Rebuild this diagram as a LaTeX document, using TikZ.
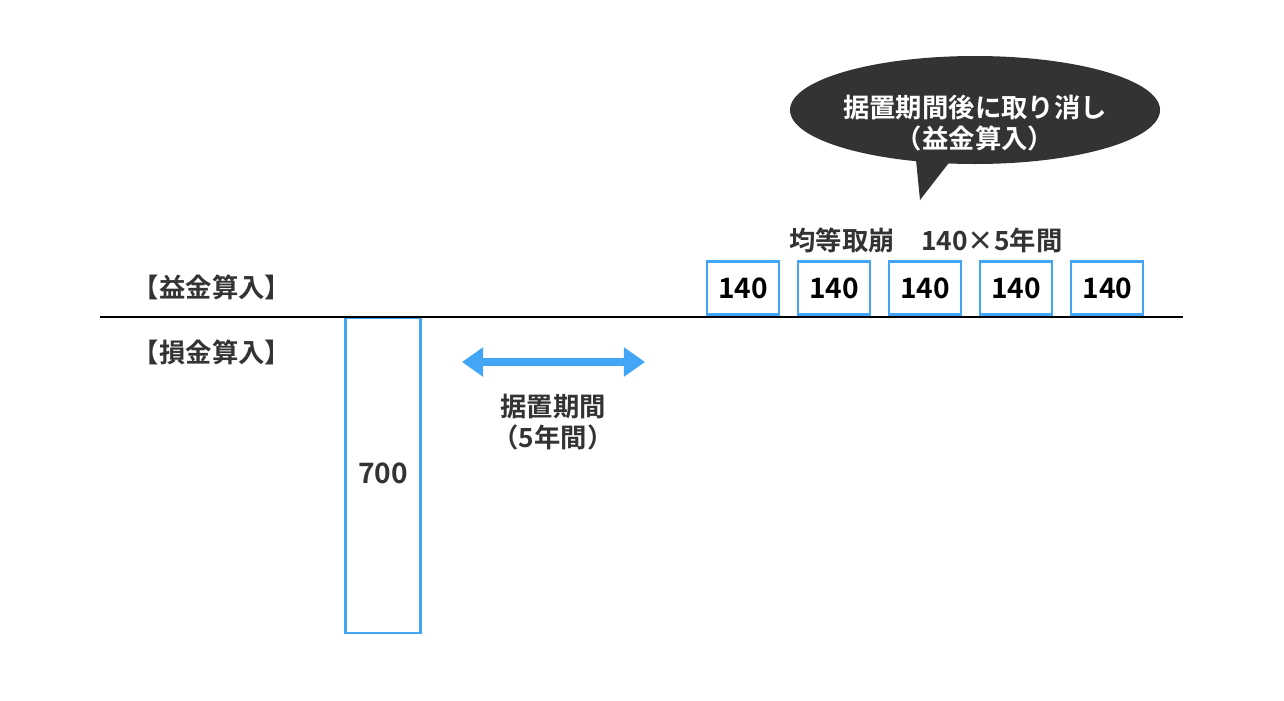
\documentclass[tikz,border=0pt]{standalone}
\usepackage{fontspec}
\setmainfont{Noto Sans CJK JP}[BoldFont={* Bold}]
\usetikzlibrary{arrows.meta}
\usetikzlibrary{positioning}
\definecolor{boxblue}{HTML}{42A5F5}
\definecolor{bubble}{HTML}{333333}
\tikzset{
amtbox/.style={draw=boxblue,
  line width=1.2pt,
    minimum width=1.44cm,
    minimum height=1.06cm,
    inner sep=0pt,
    font=\bfseries\fontsize{16}{19}\selectfont},
lbl/.style={font=\bfseries\fontsize{15}{18}\selectfont,
  text=bubble},
}
\begin{document}
\begin{tikzpicture}[x=0.02cm,y=-0.02cm]
  \useasboundingbox (0,0) rectangle (1284,700);

  % Nodes
  \node [lbl] (gain) at (212,287) {【益金算入】};
  \node [lbl] (loss) at (212,352) {【損金算入】};
  \coordinate (axisl) at (100,317);
  \coordinate (axisr) at (1183,317);
  \node [amtbox, minimum height=6.3cm, minimum width=1.5cm, anchor=north] (big) at (383,317) {};
  \node [lbl, font=\bfseries\fontsize{16}{19}\selectfont] (bigval) at (383,473) {700};
  \coordinate (arl) at (462,362);
  \coordinate (arr) at (645,362);
  \node [lbl, align=center] (defer) at (553,422) {据置期間\\（5年間）};
  \node [amtbox] (b1) at (743,288) {140};
  \node [amtbox, right=0.34cm of b1] (b2) {140};
  \node [amtbox, right=0.34cm of b2] (b3) {140};
  \node [amtbox, right=0.34cm of b3] (b4) {140};
  \node [amtbox, right=0.34cm of b4] (b5) {140};
  \node [lbl] (even) at (926,240) {均等取崩\quad 140×5年間};

  % bubble
  \fill [bubble] (975,110) ellipse [x radius=185, y radius=54];
  \fill [bubble] (915,150) -- (920,200) -- (955,155) -- cycle;
  \node [lbl, text=white, align=center] (note) at (975,123) {据置期間後に取り消し\\（益金算入）};

  % Edges
  \draw [line width=1.6pt] (axisl) -- (axisr);
  \draw [boxblue, line width=4pt, {Triangle[length=12pt,width=16pt]}-{Triangle[length=12pt,width=16pt]}] (arl) -- (arr);
\end{tikzpicture}
\end{document}
